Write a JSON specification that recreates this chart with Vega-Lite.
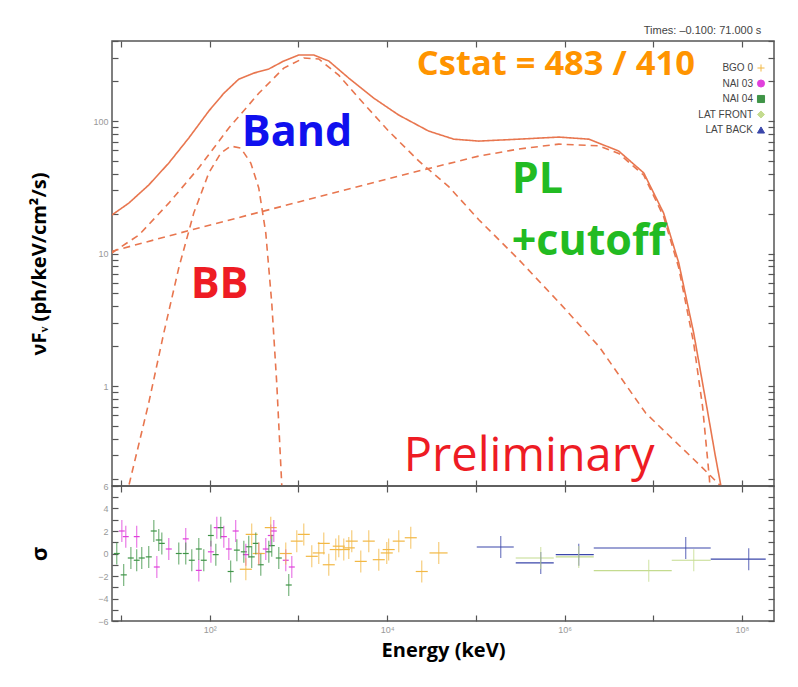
{
  "$schema": "https://vega.github.io/schema/vega-lite/v6.json",
  "background": "white",
  "padding": {"left": 27, "top": 24, "right": 10, "bottom": 5},
  "title": {"text": "Times: –0.100: 71.000 s", "anchor": "end", "fontSize": 11, "fontWeight": "normal", "color": "#444", "font": "Liberation Sans", "offset": 1, "dx": -14},
  "config": {
    "view": {"stroke": "#555", "strokeWidth": 1.5},
    "font": "Open Sans",
    "axis": {"domain": false, "grid": false, "tickColor": "#555", "tickWidth": 1.2, "tickSize": -6, "labelColor": "#999", "labelFontSize": 9, "labelFont": "Liberation Sans", "labelPadding": 10, "labelOverlap": false, "labelFlush": false, "titleFont": "Open Sans", "titleFontWeight": "bold", "titleFontSize": 20, "titleColor": "#000"}
  },
  "datasets": {
    "model": [
      {"comp": "total", "energy": 7.85, "flux": 19.5}, {"comp": "total", "energy": 12.2, "flux": 24.0}, {"comp": "total", "energy": 20.5, "flux": 32.9}, {"comp": "total", "energy": 34.5, "flux": 48.2}, {"comp": "total", "energy": 58, "flux": 74.5}, {"comp": "total", "energy": 97.5, "flux": 119}, {"comp": "total", "energy": 144, "flux": 162}, {"comp": "total", "energy": 212, "flux": 207}, {"comp": "total", "energy": 313, "flux": 230}, {"comp": "total", "energy": 462, "flux": 247}, {"comp": "total", "energy": 683, "flux": 284}, {"comp": "total", "energy": 1007, "flux": 315}, {"comp": "total", "energy": 1486, "flux": 315}, {"comp": "total", "energy": 2197, "flux": 284}, {"comp": "total", "energy": 3690, "flux": 211}, {"comp": "total", "energy": 7060, "flux": 149}, {"comp": "total", "energy": 13500, "flux": 111}, {"comp": "total", "energy": 29400, "flux": 84}, {"comp": "total", "energy": 56400, "flux": 73}, {"comp": "total", "energy": 108000, "flux": 70.6}, {"comp": "total", "energy": 305000, "flux": 73}, {"comp": "total", "energy": 861000, "flux": 75.7}, {"comp": "total", "energy": 1880000, "flux": 73}, {"comp": "total", "energy": 4080000, "flux": 59.4}, {"comp": "total", "energy": 7820000, "flux": 40.6}, {"comp": "total", "energy": 13100000, "flux": 20.2}, {"comp": "total", "energy": 19400000, "flux": 8.5}, {"comp": "total", "energy": 28600000, "flux": 2.51}, {"comp": "total", "energy": 40100000, "flux": 0.7}, {"comp": "total", "energy": 50000000, "flux": 0.3}, {"comp": "total", "energy": 58000000, "flux": 0.176}, {"comp": "total", "energy": 62000000, "flux": 0.12},
      {"comp": "band", "energy": 7.85, "flux": 10.1}, {"comp": "band", "energy": 15.9, "flux": 13.8}, {"comp": "band", "energy": 34.5, "flux": 24.0}, {"comp": "band", "energy": 75, "flux": 44.2}, {"comp": "band", "energy": 164, "flux": 88.6}, {"comp": "band", "energy": 357, "flux": 162}, {"comp": "band", "energy": 683, "flux": 251}, {"comp": "band", "energy": 1148, "flux": 299}, {"comp": "band", "energy": 1694, "flux": 294}, {"comp": "band", "energy": 2844, "flux": 222}, {"comp": "band", "energy": 4786, "flux": 149}, {"comp": "band", "energy": 10400, "flux": 84}, {"comp": "band", "energy": 22700, "flux": 50}, {"comp": "band", "energy": 49400, "flux": 32}, {"comp": "band", "energy": 108000, "flux": 18}, {"comp": "band", "energy": 305000, "flux": 9}, {"comp": "band", "energy": 861000, "flux": 4.3}, {"comp": "band", "energy": 2430000, "flux": 2.0}, {"comp": "band", "energy": 8220000, "flux": 0.625}, {"comp": "band", "energy": 34300000, "flux": 0.249}, {"comp": "band", "energy": 57700000, "flux": 0.176}, {"comp": "band", "energy": 65000000, "flux": 0.15},
      {"comp": "pl", "energy": 7.85, "flux": 10.4}, {"comp": "pl", "energy": 75, "flux": 15.6}, {"comp": "pl", "energy": 1007, "flux": 24.5}, {"comp": "pl", "energy": 13500, "flux": 38.5}, {"comp": "pl", "energy": 108000, "flux": 54.4}, {"comp": "pl", "energy": 305000, "flux": 61.5}, {"comp": "pl", "energy": 861000, "flux": 67}, {"comp": "pl", "energy": 2430000, "flux": 65}, {"comp": "pl", "energy": 4080000, "flux": 57}, {"comp": "pl", "energy": 7820000, "flux": 39}, {"comp": "pl", "energy": 13100000, "flux": 19}, {"comp": "pl", "energy": 19400000, "flux": 7.8}, {"comp": "pl", "energy": 28600000, "flux": 2.1}, {"comp": "pl", "energy": 36000000, "flux": 0.7}, {"comp": "pl", "energy": 43000000, "flux": 0.2}, {"comp": "pl", "energy": 46000000, "flux": 0.1},
      {"comp": "bb", "energy": 11.0, "flux": 0.12}, {"comp": "bb", "energy": 12.2, "flux": 0.176}, {"comp": "bb", "energy": 20.5, "flux": 0.745}, {"comp": "bb", "energy": 30.3, "flux": 2.51}, {"comp": "bb", "energy": 44.7, "flux": 7.78}, {"comp": "bb", "energy": 66, "flux": 20.2}, {"comp": "bb", "energy": 97.5, "flux": 40.6}, {"comp": "bb", "energy": 133, "flux": 57.3}, {"comp": "bb", "energy": 172.6, "flux": 64.7}, {"comp": "bb", "energy": 224, "flux": 62.5}, {"comp": "bb", "energy": 290, "flux": 48.2}, {"comp": "bb", "energy": 357, "flux": 31.2}, {"comp": "bb", "energy": 428, "flux": 14.3}, {"comp": "bb", "energy": 500, "flux": 4.23}, {"comp": "bb", "energy": 569, "flux": 1.05}, {"comp": "bb", "energy": 649, "flux": 0.176}, {"comp": "bb", "energy": 670, "flux": 0.1}
    ],
    "notes": [
      {"label": "Band", "energy": 230, "flux": 64.7},
      {"label": "BB", "energy": 61, "flux": 4.6},
      {"label": "PL", "energy": 254000, "flux": 28.6},
      {"label": "+cutoff", "energy": 254000, "flux": 9.75},
      {"label": "Preliminary", "energy": 15400, "flux": 0.228},
      {"label": "Cstat = 483 / 410", "energy": 21600, "flux": 222}
    ],
    "resid": [
      {"det": "NAI 03", "e": 10.2, "e1": 9.44, "e2": 11.0, "s": 2.0},
      {"det": "NAI 03", "e": 11.3, "e1": 10.45, "e2": 12.2, "s": 1.5},
      {"det": "NAI 03", "e": 15.0, "e1": 13.9, "e2": 16.2, "s": 1.5},
      {"det": "NAI 03", "e": 25.3, "e1": 23.4, "e2": 27.3, "s": -1.2},
      {"det": "NAI 03", "e": 34.5, "e1": 31.9, "e2": 37.3, "s": 0.4},
      {"det": "NAI 03", "e": 53.6, "e1": 49.6, "e2": 57.9, "s": 1.3},
      {"det": "NAI 03", "e": 75.2, "e1": 69.6, "e2": 81.3, "s": -1.5},
      {"det": "NAI 03", "e": 103, "e1": 95.3, "e2": 111, "s": 0.15},
      {"det": "NAI 03", "e": 120, "e1": 111, "e2": 130, "s": 2.3},
      {"det": "NAI 03", "e": 144, "e1": 133, "e2": 156, "s": 1.5},
      {"det": "NAI 03", "e": 164, "e1": 152, "e2": 177, "s": 0.4},
      {"det": "NAI 03", "e": 196, "e1": 181, "e2": 212, "s": 2.0},
      {"det": "NAI 03", "e": 255, "e1": 236, "e2": 276, "s": -0.1},
      {"det": "NAI 03", "e": 357, "e1": 330, "e2": 386, "s": 0.0},
      {"det": "NAI 03", "e": 428, "e1": 396, "e2": 463, "s": 0.4},
      {"det": "NAI 03", "e": 487, "e1": 451, "e2": 526, "s": 1.6},
      {"det": "NAI 03", "e": 527, "e1": 488, "e2": 570, "s": 2.0},
      {"det": "NAI 03", "e": 719, "e1": 665, "e2": 777, "s": -0.6},
      {"det": "NAI 03", "e": 841, "e1": 778, "e2": 909, "s": -1.2},
      {"det": "NAI 04", "e": 8.94, "e1": 8.27, "e2": 9.66, "s": 0.0},
      {"det": "NAI 04", "e": 10.7, "e1": 9.9, "e2": 11.6, "s": -1.9},
      {"det": "NAI 04", "e": 12.9, "e1": 11.9, "e2": 13.9, "s": -0.4},
      {"det": "NAI 04", "e": 15.0, "e1": 13.9, "e2": 16.2, "s": -0.6},
      {"det": "NAI 04", "e": 17.1, "e1": 15.8, "e2": 18.5, "s": -0.4},
      {"det": "NAI 04", "e": 20.5, "e1": 19.0, "e2": 22.2, "s": -0.3},
      {"det": "NAI 04", "e": 23.4, "e1": 21.6, "e2": 25.3, "s": 2.0},
      {"det": "NAI 04", "e": 26.6, "e1": 24.6, "e2": 28.8, "s": 1.2},
      {"det": "NAI 04", "e": 28.8, "e1": 26.6, "e2": 31.1, "s": 0.9},
      {"det": "NAI 04", "e": 44.7, "e1": 41.4, "e2": 48.3, "s": 0.0},
      {"det": "NAI 04", "e": 53.6, "e1": 49.6, "e2": 57.9, "s": 0.0},
      {"det": "NAI 04", "e": 62.7, "e1": 58.0, "e2": 67.8, "s": -0.6},
      {"det": "NAI 04", "e": 75.2, "e1": 69.6, "e2": 81.3, "s": 0.4},
      {"det": "NAI 04", "e": 85.6, "e1": 79.2, "e2": 92.5, "s": -0.6},
      {"det": "NAI 04", "e": 103, "e1": 95.3, "e2": 111, "s": 1.6},
      {"det": "NAI 04", "e": 117, "e1": 108, "e2": 126, "s": -0.1},
      {"det": "NAI 04", "e": 133, "e1": 123, "e2": 144, "s": 2.3},
      {"det": "NAI 04", "e": 172, "e1": 159, "e2": 186, "s": -1.6},
      {"det": "NAI 04", "e": 202, "e1": 187, "e2": 218, "s": 0.3},
      {"det": "NAI 04", "e": 242, "e1": 224, "e2": 262, "s": 0.15},
      {"det": "NAI 04", "e": 275, "e1": 254, "e2": 297, "s": 0.6},
      {"det": "NAI 04", "e": 297, "e1": 275, "e2": 321, "s": -0.3},
      {"det": "NAI 04", "e": 330, "e1": 305, "e2": 357, "s": 0.9},
      {"det": "NAI 04", "e": 376, "e1": 348, "e2": 406, "s": -1.0},
      {"det": "NAI 04", "e": 463, "e1": 428, "e2": 500, "s": 0.15},
      {"det": "NAI 04", "e": 500, "e1": 463, "e2": 541, "s": 0.7},
      {"det": "NAI 04", "e": 600, "e1": 555, "e2": 649, "s": -0.4},
      {"det": "NAI 04", "e": 777, "e1": 719, "e2": 840, "s": -2.8},
      {"det": "BGO 0", "e": 255, "e1": 218, "e2": 298, "s": -1.4},
      {"det": "BGO 0", "e": 297, "e1": 254, "e2": 347, "s": 1.7},
      {"det": "BGO 0", "e": 357, "e1": 305, "e2": 417, "s": 0.0},
      {"det": "BGO 0", "e": 487, "e1": 417, "e2": 569, "s": 2.3},
      {"det": "BGO 0", "e": 719, "e1": 615, "e2": 841, "s": 0.0},
      {"det": "BGO 0", "e": 957, "e1": 819, "e2": 1119, "s": 1.1},
      {"det": "BGO 0", "e": 1148, "e1": 982, "e2": 1342, "s": 1.7},
      {"det": "BGO 0", "e": 1413, "e1": 1209, "e2": 1652, "s": -0.25},
      {"det": "BGO 0", "e": 1694, "e1": 1449, "e2": 1980, "s": 0.05},
      {"det": "BGO 0", "e": 1929, "e1": 1650, "e2": 2255, "s": 0.9},
      {"det": "BGO 0", "e": 2196, "e1": 1879, "e2": 2567, "s": -1.0},
      {"det": "BGO 0", "e": 2634, "e1": 2253, "e2": 3079, "s": 0.35},
      {"det": "BGO 0", "e": 2848, "e1": 2436, "e2": 3329, "s": 0.65},
      {"det": "BGO 0", "e": 3241, "e1": 2772, "e2": 3789, "s": 0.35},
      {"det": "BGO 0", "e": 3692, "e1": 3158, "e2": 4316, "s": 0.5},
      {"det": "BGO 0", "e": 3990, "e1": 3413, "e2": 4664, "s": 1.1},
      {"det": "BGO 0", "e": 5041, "e1": 4312, "e2": 5893, "s": -0.7},
      {"det": "BGO 0", "e": 6204, "e1": 5307, "e2": 7252, "s": 1.1},
      {"det": "BGO 0", "e": 8044, "e1": 6881, "e2": 9403, "s": -0.55},
      {"det": "BGO 0", "e": 9897, "e1": 8466, "e2": 11570, "s": 0.05},
      {"det": "BGO 0", "e": 10400, "e1": 8896, "e2": 12160, "s": 0.35},
      {"det": "BGO 0", "e": 13510, "e1": 11560, "e2": 15790, "s": 1.1},
      {"det": "BGO 0", "e": 18460, "e1": 15790, "e2": 21580, "s": 1.4},
      {"det": "BGO 0", "e": 24550, "e1": 21000, "e2": 28700, "s": -1.6},
      {"det": "BGO 0", "e": 38170, "e1": 30000, "e2": 48000, "s": 0.05},
      {"det": "LAT BACK", "e": 190900, "e1": 102400, "e2": 267500, "s": 0.58},
      {"det": "LAT BACK", "e": 539100, "e1": 281700, "e2": 755500, "s": -0.84},
      {"det": "LAT BACK", "e": 1446000, "e1": 795900, "e2": 2135000, "s": -0.1},
      {"det": "LAT BACK", "e": 23250000, "e1": 2135000, "e2": 44490000, "s": 0.49},
      {"det": "LAT BACK", "e": 119300000, "e1": 44490000, "e2": 185500000, "s": -0.5},
      {"det": "LAT FRONT", "e": 539100, "e1": 281700, "e2": 755500, "s": -0.4},
      {"det": "LAT FRONT", "e": 1446000, "e1": 795900, "e2": 2135000, "s": -0.3},
      {"det": "LAT FRONT", "e": 8898000, "e1": 2135000, "e2": 16170000, "s": -1.53},
      {"det": "LAT FRONT", "e": 28620000, "e1": 16170000, "e2": 44490000, "s": -0.6}
    ]
  },
  "spacing": 0,
  "bounds": "flush",
  "vconcat": [
    {
      "width": 662,
      "height": 445,
      "resolve": {"axis": {"x": "independent", "y": "independent"}},
      "layer": [
        {
          "data": {"name": "model"},
          "mark": {"type": "line", "clip": true, "color": "#e8764f", "strokeWidth": 1.6},
          "encoding": {
            "x": {"field": "energy", "type": "quantitative", "scale": {"type": "log", "domain": [7.9, 230000000], "nice": false},
              "axis": {"orient": "bottom", "title": null, "labels": false, "values": [10, 100, 1000, 10000, 100000, 1000000, 10000000, 100000000]}},
            "y": {"field": "flux", "type": "quantitative", "scale": {"type": "log", "domain": [0.176, 402], "nice": false},
              "axis": {"orient": "left", "title": "νFᵥ (ph/keV/cm²/s)", "titleX": -73, "titleBaseline": "middle",
                "values": [0.2, 0.3, 0.4, 0.5, 0.6, 0.7, 0.8, 0.9, 1, 2, 3, 4, 5, 6, 7, 8, 9, 10, 20, 30, 40, 50, 60, 70, 80, 90, 100, 200, 300, 400],
                "labelExpr": "datum.value == 1 ? '1' : datum.value == 10 ? '10' : datum.value == 100 ? '100' : ''"}},
            "detail": {"field": "comp", "type": "nominal"},
            "strokeDash": {"field": "comp", "type": "nominal", "scale": {"domain": ["total", "band", "pl", "bb"], "range": [[1, 0], [7, 5], [7, 5], [7, 5]]}, "legend": null}
          }
        },
        {
          "data": {"name": "notes"},
          "transform": [{"filter": "datum.label == 'Band'"}],
          "mark": {"type": "text", "font": "Open Sans", "fontWeight": "bold", "fontSize": 43, "color": "#1010ee", "align": "left", "baseline": "alphabetic"},
          "encoding": {
            "x": {"field": "energy", "type": "quantitative", "scale": {"type": "log"},
              "axis": {"orient": "top", "title": null, "labels": false, "values": [10, 100, 1000, 10000, 100000, 1000000, 10000000, 100000000]}},
            "y": {"field": "flux", "type": "quantitative", "scale": {"type": "log"},
              "axis": {"orient": "right", "title": null, "labels": false,
                "values": [0.2, 0.3, 0.4, 0.5, 0.6, 0.7, 0.8, 0.9, 1, 2, 3, 4, 5, 6, 7, 8, 9, 10, 20, 30, 40, 50, 60, 70, 80, 90, 100, 200, 300, 400]}},
            "text": {"field": "label", "type": "nominal"}
          }
        },
        {
          "data": {"name": "notes"},
          "transform": [{"filter": "datum.label == 'BB'"}],
          "mark": {"type": "text", "font": "Open Sans", "fontWeight": "bold", "fontSize": 43, "color": "#ee1c24", "align": "left", "baseline": "alphabetic"},
          "encoding": {
            "x": {"field": "energy", "type": "quantitative", "scale": {"type": "log"}, "axis": null},
            "y": {"field": "flux", "type": "quantitative", "scale": {"type": "log"}, "axis": null},
            "text": {"field": "label", "type": "nominal"}
          }
        },
        {
          "data": {"name": "notes"},
          "transform": [{"filter": "datum.label == 'PL' || datum.label == '+cutoff'"}],
          "mark": {"type": "text", "font": "Open Sans", "fontWeight": "bold", "fontSize": 43, "color": "#22bb22", "align": "left", "baseline": "alphabetic"},
          "encoding": {
            "x": {"field": "energy", "type": "quantitative", "scale": {"type": "log"}, "axis": null},
            "y": {"field": "flux", "type": "quantitative", "scale": {"type": "log"}, "axis": null},
            "text": {"field": "label", "type": "nominal"}
          }
        },
        {
          "data": {"name": "notes"},
          "transform": [{"filter": "datum.label == 'Preliminary'"}],
          "mark": {"type": "text", "font": "Open Sans", "fontWeight": "normal", "fontSize": 47, "color": "#ee1c24", "align": "left", "baseline": "alphabetic"},
          "encoding": {
            "x": {"field": "energy", "type": "quantitative", "scale": {"type": "log"}, "axis": null},
            "y": {"field": "flux", "type": "quantitative", "scale": {"type": "log"}, "axis": null},
            "text": {"field": "label", "type": "nominal"}
          }
        },
        {
          "data": {"name": "notes"},
          "transform": [{"filter": "datum.label == 'Cstat = 483 / 410'"}],
          "mark": {"type": "text", "font": "Open Sans", "fontWeight": "bold", "fontSize": 34.5, "color": "#ff9400", "align": "left", "baseline": "alphabetic"},
          "encoding": {
            "x": {"field": "energy", "type": "quantitative", "scale": {"type": "log"}, "axis": null},
            "y": {"field": "flux", "type": "quantitative", "scale": {"type": "log"}, "axis": null},
            "text": {"field": "label", "type": "nominal"}
          }
        }
      ]
    },
    {
      "width": 662,
      "height": 135,
      "data": {"name": "resid"},
      "resolve": {"axis": {"x": "independent", "y": "independent"}},
      "layer": [
        {
          "mark": {"type": "point", "opacity": 0, "filled": false, "clip": true},
          "encoding": {
            "x": {"field": "e", "type": "quantitative", "scale": {"type": "log", "domain": [7.9, 230000000], "nice": false},
              "axis": {"orient": "bottom", "title": "Energy (keV)", "titlePadding": 6, "values": [10, 100, 1000, 10000, 100000, 1000000, 10000000, 100000000],
                "labelExpr": "datum.value == 100 ? '10²' : datum.value == 10000 ? '10⁴' : datum.value == 1000000 ? '10⁶' : datum.value == 100000000 ? '10⁸' : ''"}},
            "y": {"field": "s", "type": "quantitative", "scale": {"domain": [-6, 6], "nice": false},
              "axis": {"orient": "left", "title": "σ", "titleFontSize": 22, "titleX": -73, "titleBaseline": "middle", "values": [-6, -5, -4, -3, -2, -1, 0, 1, 2, 3, 4, 5, 6],
                "labelExpr": "datum.value % 2 == 0 ? datum.label : ''"}},
            "color": {"field": "det", "type": "nominal", "scale": {"domain": ["BGO 0", "NAI 03", "NAI 04", "LAT FRONT", "LAT BACK"], "range": ["#f2b844", "#e040dc", "#3f9447", "#c4db8f", "#3a46aa"]},
              "legend": {"title": null, "orient": "none", "legendX": 644, "legendY": 22, "labelFontSize": 10, "labelColor": "#444", "labelFont": "Liberation Sans", "labelAlign": "right", "labelOffset": -13, "symbolSize": 50, "symbolStrokeWidth": 1, "symbolFillColor": "transparent", "rowPadding": 3.5, "symbolOpacity": 1}},
            "shape": {"field": "det", "type": "nominal", "scale": {"domain": ["BGO 0", "NAI 03", "NAI 04", "LAT FRONT", "LAT BACK"], "range": ["M-1,0L1,0M0,-1L0,1", "circle", "square", "diamond", "triangle-up"]}}
          }
        },
        {
          "mark": {"type": "rule", "strokeWidth": 1.2, "clip": true},
          "encoding": {
            "x": {"field": "e1", "type": "quantitative", "scale": {"type": "log"}, "axis": null},
            "x2": {"field": "e2"},
            "y": {"field": "s", "type": "quantitative", "axis": null},
            "stroke": {"field": "det", "type": "nominal", "scale": {"domain": ["BGO 0", "NAI 03", "NAI 04", "LAT FRONT", "LAT BACK"], "range": ["#f2b844", "#e040dc", "#3f9447", "#c4db8f", "#3a46aa"]}, "legend": null}
          }
        },
        {
          "mark": {"type": "tick", "orient": "vertical", "size": 22, "thickness": 1.2, "clip": true},
          "encoding": {
            "x": {"field": "e", "type": "quantitative", "scale": {"type": "log"},
              "axis": {"orient": "top", "title": null, "labels": false, "values": [10, 100, 1000, 10000, 100000, 1000000, 10000000, 100000000]}},
            "y": {"field": "s", "type": "quantitative",
              "axis": {"orient": "right", "title": null, "labels": false, "values": [-6, -5, -4, -3, -2, -1, 0, 1, 2, 3, 4, 5, 6]}},
            "fill": {"field": "det", "type": "nominal", "scale": {"domain": ["BGO 0", "NAI 03", "NAI 04", "LAT FRONT", "LAT BACK"], "range": ["#f2b844", "#e040dc", "#3f9447", "#c4db8f", "#3a46aa"]}, "legend": null}
          }
        }
      ]
    }
  ]
}
